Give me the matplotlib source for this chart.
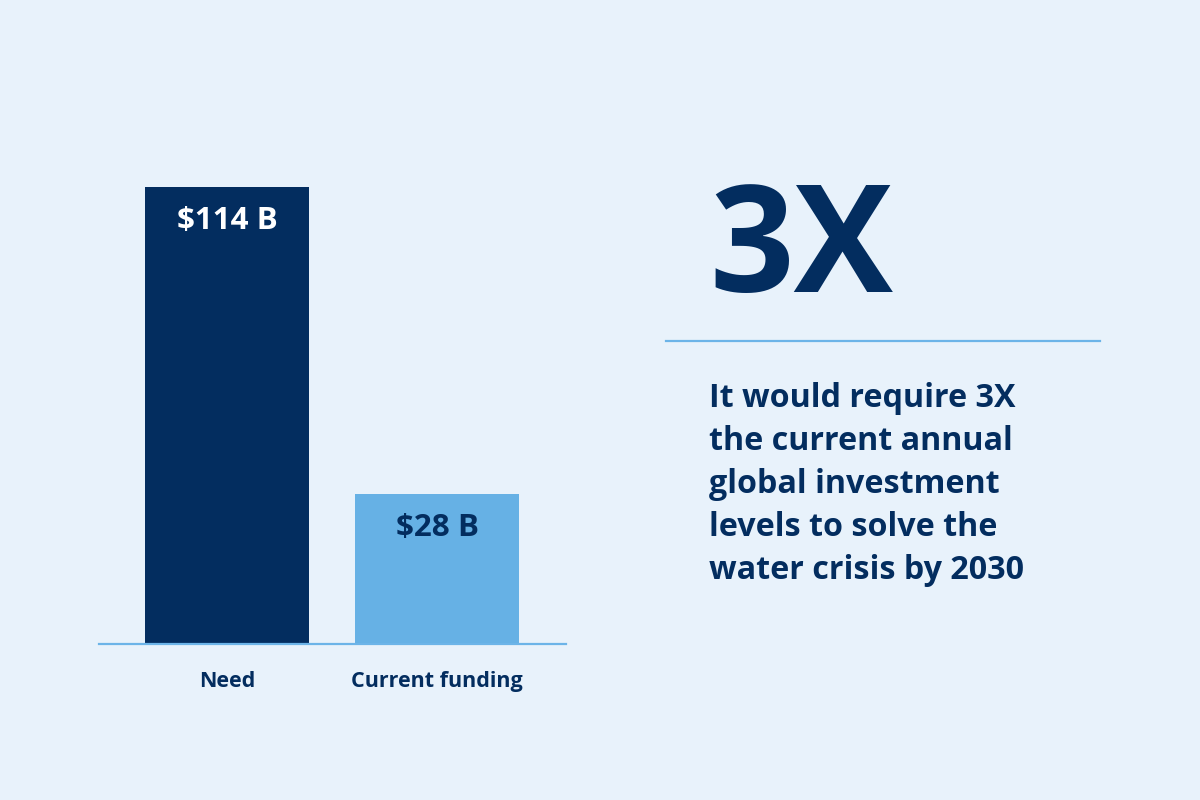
import matplotlib.pyplot as plt

# data
categories = ['Need', 'Current funding']
values = [114, 28]
value_labels = ['$114 B', '$28 B']
headline = '3X'
body_lines = ['It would require 3X',
              'the current annual',
              'global investment',
              'levels to solve the',
              'water crisis by 2030']

# style
BG = '#E8F2FB'
NAVY = '#032D5F'
LIGHT = '#66B1E5'
RULE = '#6CB4E8'
BASE = 14  # the infographic's bars start below zero (not to scale)

plt.rcParams['font.family'] = ['Open Sans', 'DejaVu Sans']
plt.rcParams['font.weight'] = 'bold'

fig = plt.figure(figsize=(12, 8), dpi=100, facecolor=BG)

ax = fig.add_axes([99 / 1200, 156 / 800, 467 / 1200, 478.4 / 800])
ax.set_facecolor(BG)
x = range(len(categories))
heights = [v + BASE for v in values]
ax.bar(x, heights, bottom=-BASE, width=0.783, color=[NAVY, LIGHT], zorder=2)
ax.set_xlim(-0.609, 1.614)
ax.set_ylim(-BASE, 120)

for s in ['top', 'left', 'right']:
    ax.spines[s].set_visible(False)
ax.spines['bottom'].set_color(RULE)
ax.spines['bottom'].set_linewidth(1.6)
ax.set_xticks([])
ax.set_yticks([])

# value labels inside the bars
for i, (v, lbl) in enumerate(zip(values, value_labels)):
    ax.annotate(lbl, xy=(i, v), xytext=(0, -30.3), textcoords='offset points',
                ha='center', va='baseline', fontsize=22.6, fontweight='bold',
                color='white' if i == 0 else NAVY)

# category labels below the axis
for i, c in enumerate(categories):
    ax.annotate(c, xy=(i, -BASE), xytext=(0, -31), textcoords='offset points',
                ha='center', va='baseline', fontsize=15.5, fontweight='bold',
                color=NAVY, annotation_clip=False)

# right panel
fig.text(709 / 1200, 1 - 291.7 / 800, headline, fontsize=107, fontweight='bold',
         color=NAVY, ha='left', va='baseline')
fig.add_artist(plt.Line2D([666 / 1200, 1100 / 1200], [1 - 340.7 / 800] * 2,
                          color=RULE, linewidth=1.6))
for k, line in enumerate(body_lines):
    fig.text(709 / 1200, 1 - (407.3 + 43 * k) / 800, line, fontsize=23.2,
             fontweight='bold', color=NAVY, ha='left', va='baseline')

fig.savefig('out.png', dpi=100, facecolor=BG)
